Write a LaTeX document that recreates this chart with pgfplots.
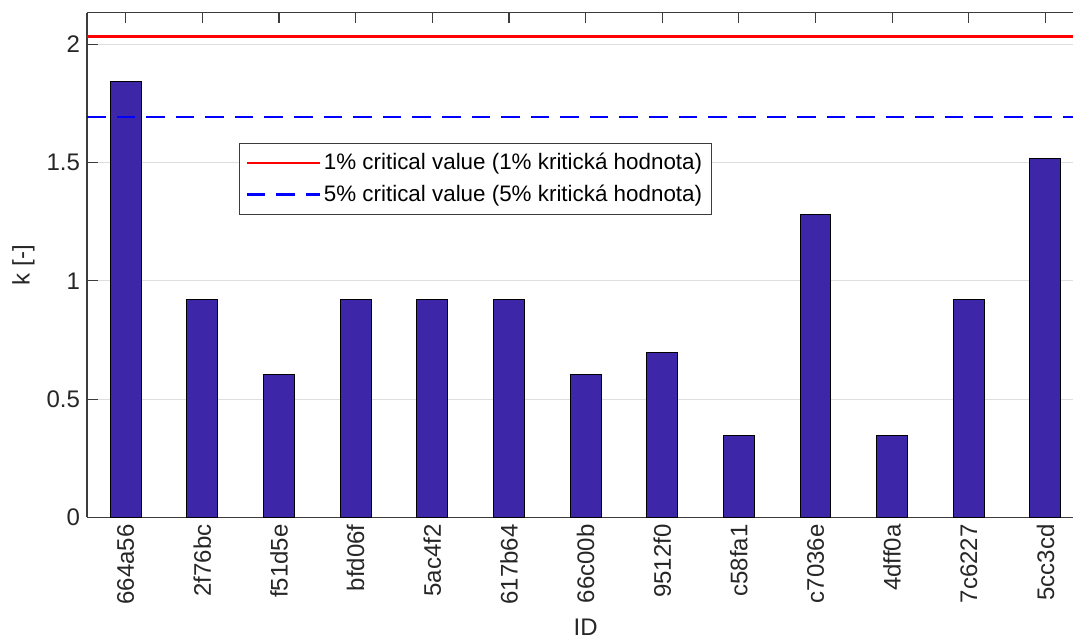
\documentclass[border=0pt]{standalone}
\usepackage{fontspec}
\setmainfont{Liberation Sans}
\usepackage{pgfplots}
\pgfplotsset{compat=1.18}
\definecolor{barblue}{RGB}{62,38,168}
\definecolor{axgray}{RGB}{60,60,60}
\definecolor{gridgray}{RGB}{222,222,222}
\begin{document}
\begin{tikzpicture}
\begin{axis}[
  scale only axis,
  width=493.5pt, height=252.5pt,
  at={(0,0)}, anchor=south west,
  xmin=-0.506, xmax=12.365,
  ymin=0, ymax=2.133,
  axis x line*=box, axis y line*=left,
  axis line style={axgray, line width=0.6pt},
  tick style={axgray, line width=0.6pt},
  major tick length=5.3pt,
  tick align=inside,
  xtick={0,1,2,3,4,5,6,7,8,9,10,11,12},
  xticklabels={664a56,2f76bc,f51d5e,bfd06f,5ac4f2,617b64,66c00b,9512f0,c58fa1,c7036e,4dff0a,7c6227,5cc3cd},
  ytick={0,0.5,1,1.5,2},
  yticklabels={0,0.5,1,1.5,2},
  /pgf/number format/assume math mode=true,
  xticklabel style={rotate=90, anchor=east, font=\fontsize{12}{14}\selectfont, text=black!85},
  yticklabel style={font=\fontsize{12}{14}\selectfont, text=black!85},
  ymajorgrids=true,
  grid style={gridgray, line width=0.6pt},
  xlabel={ID},
  ylabel={k [-]},
  xlabel style={at={(axis description cs:0.5056,-0.2178)}, anchor=center, font=\fontsize{12}{14}\selectfont, text=black!85},
  ylabel style={at={(axis description cs:-0.0643,0.5)}, anchor=center, font=\fontsize{12}{14}\selectfont, text=black!85},
  legend style={at={(axis description cs:0.1543,0.7426)}, anchor=north west,
    draw=axgray, line width=0.6pt, fill=white,
    font=\fontsize{11.2}{13}\selectfont, inner xsep=3pt, inner ysep=3pt, row sep=2pt,
    nodes={inner xsep=1.5pt}},
  legend cell align=left,
  legend image code/.code={\draw[#1] (0pt,0pt) -- (36.5pt,0pt);},
]
\addplot[ybar, bar width=0.404, fill=barblue, draw=black, line width=0.5pt, forget plot]
  coordinates {
  (0,1.844) (1,0.923) (2,0.603) (3,0.923) (4,0.923) (5,0.923) (6,0.603)
  (7,0.696) (8,0.348) (9,1.282) (10,0.348) (11,0.923) (12,1.517)
  };
\addplot[red, line width=1.1pt] coordinates {(-0.506,2.032) (12.365,2.032)};
\addlegendentry{1\% critical value (1\% kritická hodnota)}
\addplot[blue, line width=1.1pt, dash pattern=on 9.3pt off 5.5pt] coordinates {(-0.506,1.692) (12.365,1.692)};
\addlegendentry{5\% critical value (5\% kritická hodnota)}
\end{axis}
\path (-43.5pt,-58.65pt) rectangle (493.5pt,258.85pt);
\end{tikzpicture}
\end{document}
